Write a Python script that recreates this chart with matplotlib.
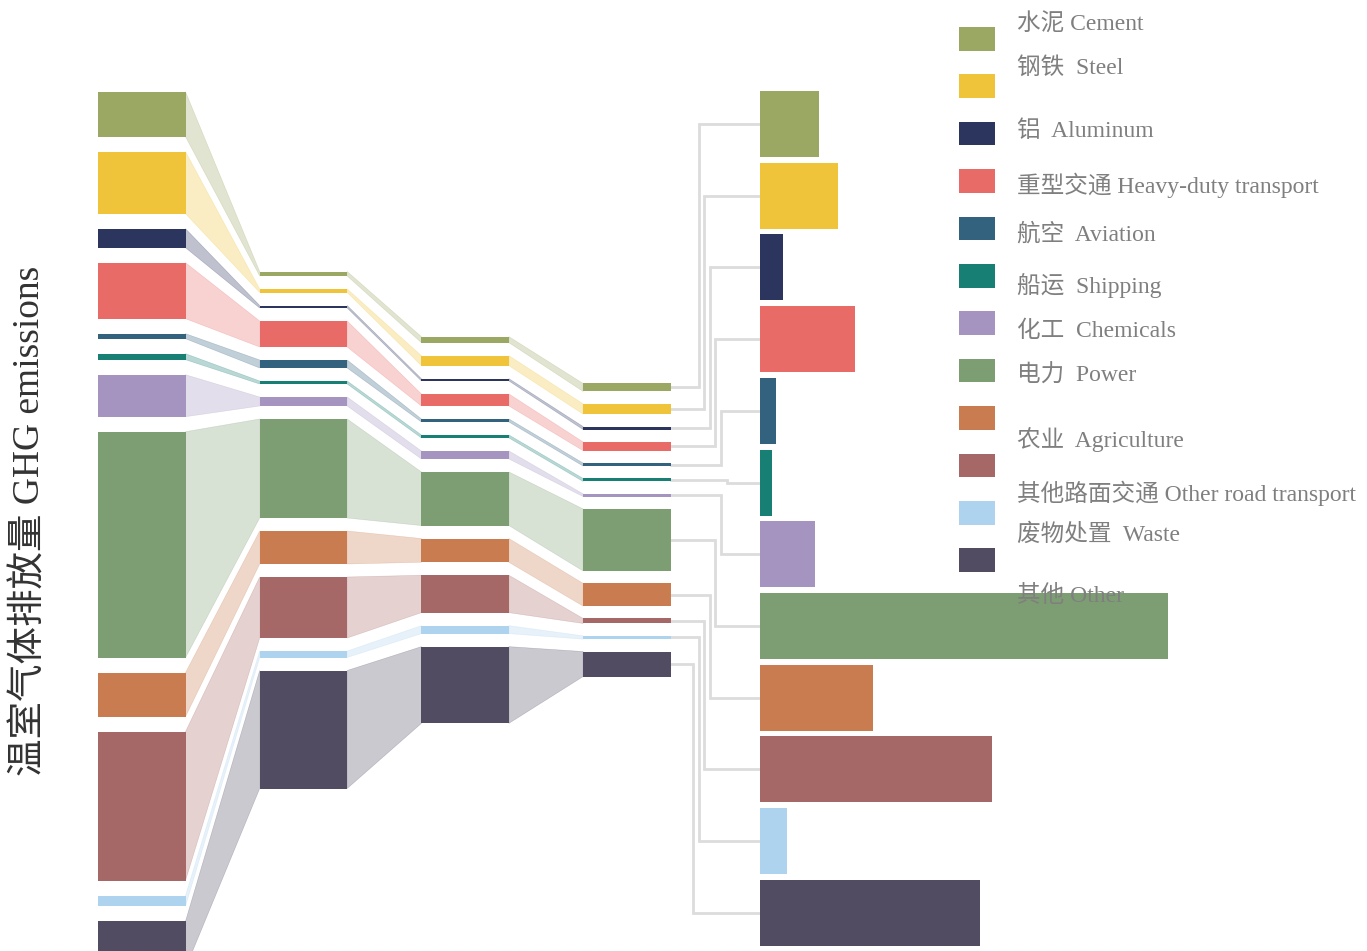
import matplotlib
matplotlib.use("Agg")
import matplotlib.pyplot as plt
from matplotlib.patches import Polygon, Rectangle

# categories (legend order, top to bottom)
labels = ["水泥 Cement", "钢铁  Steel", "铝  Aluminum", "重型交通 Heavy-duty transport",
          "航空  Aviation", "船运  Shipping", "化工  Chemicals", "电力  Power",
          "农业  Agriculture", "其他路面交通 Other road transport", "废物处置  Waste",
          "其他 Other"]
colors = ["#9aa864", "#f0c43a", "#2c355e", "#e86b68", "#33627f", "#187f74",
          "#a593c0", "#7d9e72", "#c97c4f", "#a66866", "#aed3ef", "#524c62"]

# emissions per category at each of the four stages
stage1 = [45, 62, 19, 56, 5, 6, 42, 226, 44, 149, 10.6, 47]
stage2 = [4.5, 3.5, 2.5, 26, 8, 3, 9, 99, 33, 61, 6.5, 118]
stage3 = [6, 10, 2.3, 12, 3, 3, 8, 53.6, 23.7, 37.4, 8, 76.7]
stage4 = [8, 10.3, 3, 8.7, 3, 3, 2.7, 62, 22.7, 5, 3.3, 25]
stages = [stage1, stage2, stage3, stage4]

# right hand bars
totals = [58.6, 78, 22.6, 94.6, 15.6, 11.6, 55, 407.6, 113.3, 232.3, 26.6, 220.3]

# layout (pixel space)
W, H = 1367, 951
fig = plt.figure(figsize=(W / 100, H / 100), dpi=100)
ax = fig.add_axes([0, 0, 1, 1])
ax.set_xlim(0, W)
ax.set_ylim(H, 0)
ax.axis("off")

font = ["Liberation Serif", "Noto Sans CJK SC"]
col_x0, col_step, col_w = 98, 161.7, 87.5
gaps = [15, 13, 13, 12.4]
center_y = 530

# stacked columns, centred vertically
tops = []
for i, vals in enumerate(stages):
    total = sum(vals) + gaps[i] * (len(vals) - 1)
    y = center_y - total / 2
    t = []
    for v in vals:
        t.append(y)
        y += v + gaps[i]
    tops.append(t)
    ax.bar([col_x0 + i * col_step] * len(vals), vals, width=col_w, bottom=t,
           align="edge", color=colors, edgecolor="none", zorder=3)

# flows between columns
for i in range(len(stages) - 1):
    xa = col_x0 + i * col_step + col_w
    xb = col_x0 + (i + 1) * col_step
    for k in range(len(labels)):
        ya, yb = tops[i][k], tops[i + 1][k]
        ha, hb = stages[i][k], stages[i + 1][k]
        poly = Polygon([(xa, ya), (xb, yb), (xb, yb + hb), (xa, ya + ha)],
                       closed=True, facecolor=colors[k], alpha=0.3,
                       edgecolor=colors[k], lw=0.4, zorder=2)
        ax.add_patch(poly)

# horizontal bars on the right
bar_left, row_top, row_step, bar_h = 760, 91, 71.7, 66
rows = [row_top + bar_h / 2 + row_step * k for k in range(len(totals))]
ax.barh(rows, totals, height=bar_h, left=bar_left, color=colors,
        edgecolor="none", zorder=3)

# elbow connectors from last column to bars
rank = [1, 2, 3, 4, 5, 6, 5, 4, 3, 2, 1, 0]
x_end = col_x0 + 3 * col_step + col_w
for k in range(len(labels)):
    ys = tops[3][k] + stage4[k] / 2
    xe = 693 + 5.6 * rank[k]
    ax.plot([x_end, xe, xe, bar_left], [ys, ys, rows[k], rows[k]],
            color="#dcdcdc", lw=2, zorder=1, solid_joinstyle="miter")

# legend (hand placed, as in the original)
leg_x, leg_top, leg_step, leg_h = 959, 27, 47.4, 23.5
text_y = [24, 68, 131, 185, 234, 286, 331, 376, 439, 493, 535, 596]
for k, lab in enumerate(labels):
    ax.add_patch(Rectangle((leg_x, leg_top + leg_step * k), 36, leg_h,
                           facecolor=colors[k], edgecolor="none", zorder=4))
    ax.text(1017, text_y[k], lab, fontsize=17, color="#7f7f7f",
            family=font, va="center", ha="left", zorder=5)

ax.text(30, 521, "温室气体排放量 GHG emissions", rotation=90, fontsize=27,
        color="#333333", family=font, va="center", ha="center")

fig.savefig("out.png", dpi=100)
